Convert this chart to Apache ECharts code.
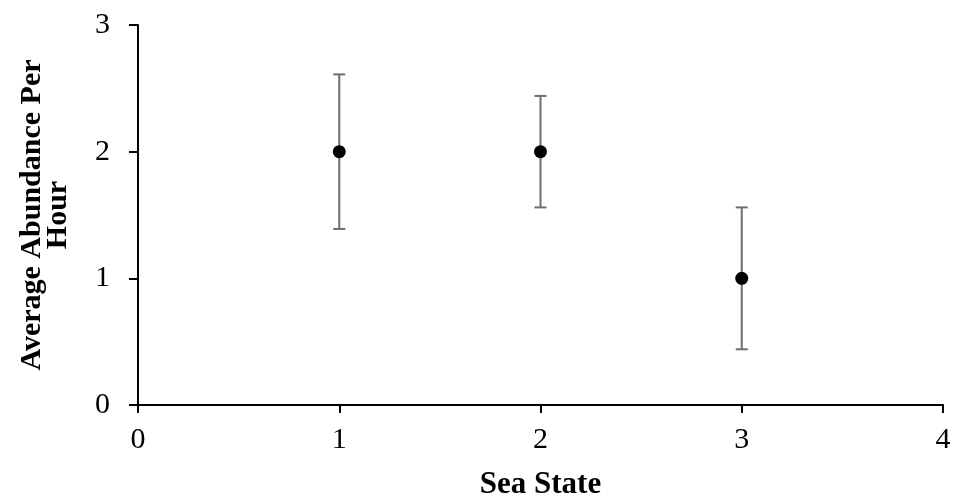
<!DOCTYPE html>
<html>
<head>
<meta charset="utf-8">
<script src="https://cdn.jsdelivr.net/npm/echarts@6/dist/echarts.min.js"></script>
<style>
  html, body { margin: 0; padding: 0; background: #fff; }
  #chart { width: 953px; height: 495px; }
</style>
</head>
<body>
<div id="chart"></div>
<script>
// Sea state observations: mean abundance per hour with error ranges
const seaState = [1, 2, 3];
const meanAbundance = [2, 2, 1];
const errorLow = [1.39, 1.56, 0.44];
const errorHigh = [2.61, 2.44, 1.56];
const xTicks = [0, 1, 2, 3, 4];
const yTicks = [0, 1, 2, 3];

const FONT = '"Liberation Serif", "Times New Roman", serif';

const points = seaState.map((s, i) => [s, meanAbundance[i]]);
const bars = seaState.map((s, i) => [s, errorLow[i], errorHigh[i]]);

const chart = echarts.init(document.getElementById('chart'));
chart.setOption({
  animation: false,
  backgroundColor: '#ffffff',
  grid: { left: 138, right: 10, top: 25, bottom: 90, containLabel: false, outerBoundsMode: 'none' },
  xAxis: {
    type: 'value',
    min: xTicks[0],
    max: xTicks[xTicks.length - 1],
    interval: 1,
    name: 'Sea State',
    nameLocation: 'middle',
    nameGap: 64,
    nameTextStyle: { fontFamily: FONT, fontWeight: 'bold', fontSize: 31, color: '#000' },
    axisLine: { lineStyle: { color: '#000', width: 2 } },
    axisTick: { show: true, inside: false, length: 8, lineStyle: { color: '#000', width: 2 } },
    axisLabel: { fontFamily: FONT, fontSize: 30, color: '#000', margin: 20 },
    splitLine: { show: false }
  },
  yAxis: {
    type: 'value',
    min: yTicks[0],
    max: yTicks[yTicks.length - 1],
    interval: 1,
    name: 'Average Abundance Per\nHour',
    nameLocation: 'middle',
    nameGap: 67,
    nameRotate: 90,
    nameTextStyle: { fontFamily: FONT, fontWeight: 'bold', fontSize: 30, color: '#000', lineHeight: 26, align: 'center' },
    axisLine: { show: true, lineStyle: { color: '#000', width: 2 } },
    axisTick: { show: true, inside: false, length: 9, lineStyle: { color: '#000', width: 2 } },
    axisLabel: { fontFamily: FONT, fontSize: 30, color: '#000', margin: 28 },
    splitLine: { show: false }
  },
  series: [
    {
      type: 'custom',
      name: 'error',
      data: bars,
      z: 2,
      renderItem: function (params, api) {
        const x = api.value(0);
        const lo = api.coord([x, api.value(1)]);
        const hi = api.coord([x, api.value(2)]);
        const half = 6;
        const style = { stroke: '#6e6e6e', lineWidth: 2 };
        return {
          type: 'group',
          children: [
            { type: 'line', shape: { x1: lo[0], y1: lo[1], x2: hi[0], y2: hi[1] }, style: style },
            { type: 'line', shape: { x1: hi[0] - half, y1: hi[1], x2: hi[0] + half, y2: hi[1] }, style: style },
            { type: 'line', shape: { x1: lo[0] - half, y1: lo[1], x2: lo[0] + half, y2: lo[1] }, style: style }
          ]
        };
      }
    },
    {
      type: 'scatter',
      name: 'mean',
      data: points,
      z: 3,
      symbol: 'circle',
      symbolSize: 13,
      itemStyle: { color: '#000', opacity: 1 }
    }
  ]
});
</script>
</body>
</html>
